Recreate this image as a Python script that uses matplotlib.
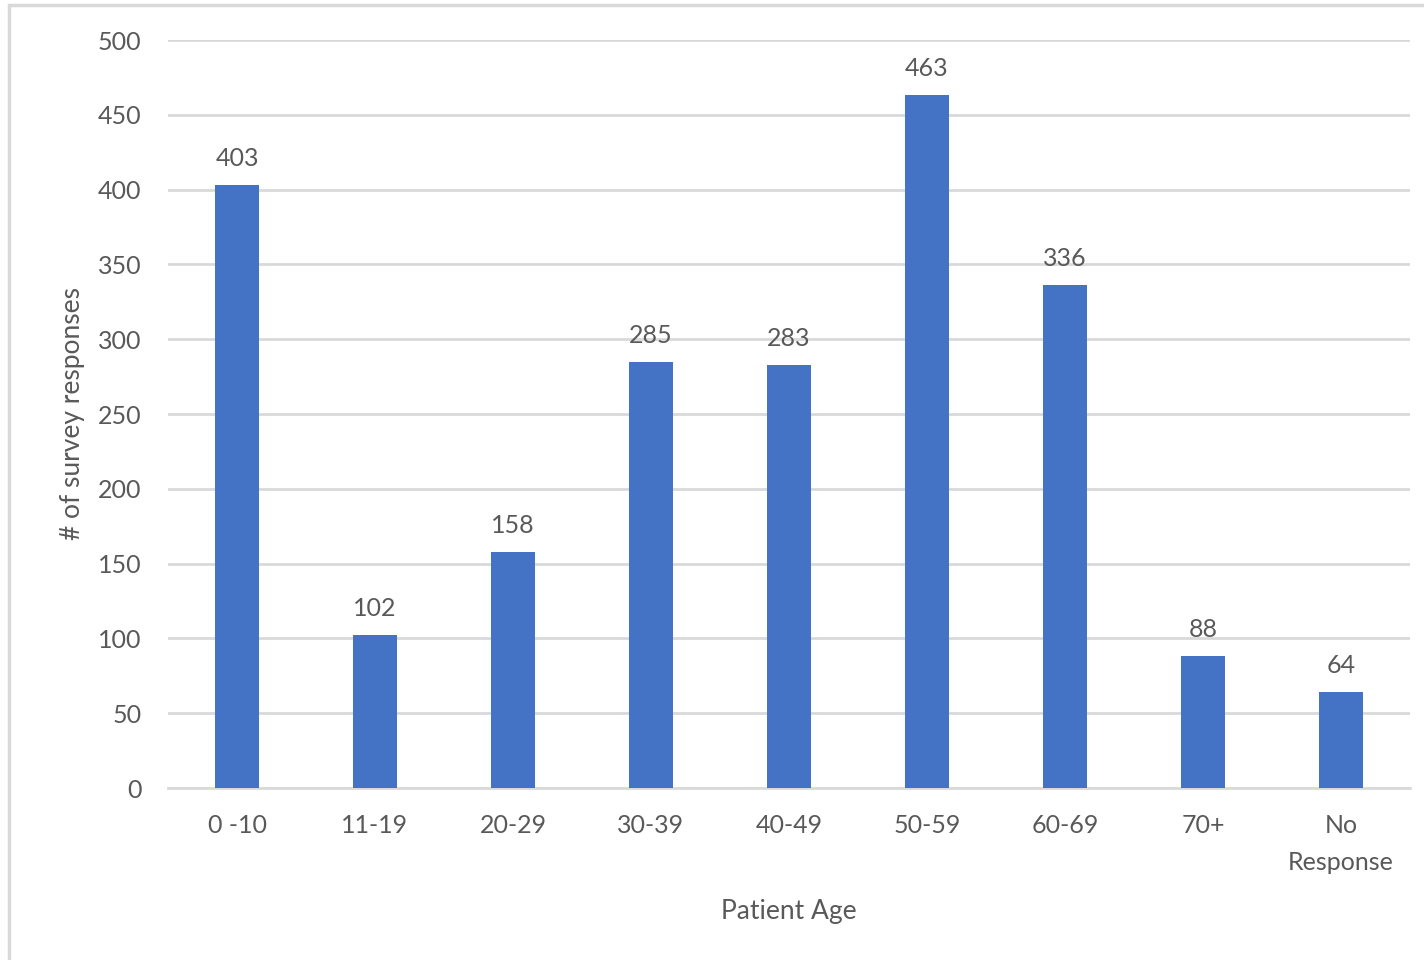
import matplotlib.pyplot as plt
from matplotlib.patches import Rectangle

plt.rcParams['font.family'] = ['Lato', 'DejaVu Sans']

ages = ['0 -10', '11-19', '20-29', '30-39', '40-49', '50-59', '60-69', '70+', 'No\nResponse']
counts = [403, 102, 158, 285, 283, 463, 336, 88, 64]

text_color = '#595959'
grid_color = '#D9D9D9'

fig = plt.figure(figsize=(14.24, 9.6), dpi=100)
ax = fig.add_axes([168 / 1424, 1 - 788 / 960, (1410 - 168) / 1424, (788 - 40) / 960])

x = range(len(ages))
bars = ax.bar(x, counts, width=0.32, color='#4472C4', zorder=3)
for xi, v in zip(x, counts):
    ax.text(xi, v + 10, str(v), ha='center', va='bottom', fontsize=18, color=text_color)

ax.set_xlim(-0.5, len(ages) - 0.5)
ax.set_ylim(0, 500)
ax.set_yticks(range(0, 501, 50))
ax.set_xticks(list(x))
ax.set_xticklabels(ages, fontsize=18, color=text_color, linespacing=1.7)
ax.tick_params(axis='y', labelsize=18, labelcolor=text_color, length=0, pad=19)
ax.tick_params(axis='x', length=0, pad=19)
ax.yaxis.grid(True, color=grid_color, linewidth=2, zorder=0)
for s in ['top', 'right', 'left']:
    ax.spines[s].set_visible(False)
ax.spines['bottom'].set_color(grid_color)
ax.spines['bottom'].set_linewidth(2)

ax.set_xlabel('Patient Age', fontsize=19, color=text_color, labelpad=18)
ax.set_ylabel('# of survey responses', fontsize=19, color=text_color, labelpad=9)

# chart area border (cropped on right and bottom)
fig.patches.append(Rectangle((9 / 1424, -0.1), 1.2, 1.1 - 5 / 960, transform=fig.transFigure,
                             fill=False, edgecolor=grid_color, linewidth=2.5))

fig.savefig('out.png', dpi=100)
